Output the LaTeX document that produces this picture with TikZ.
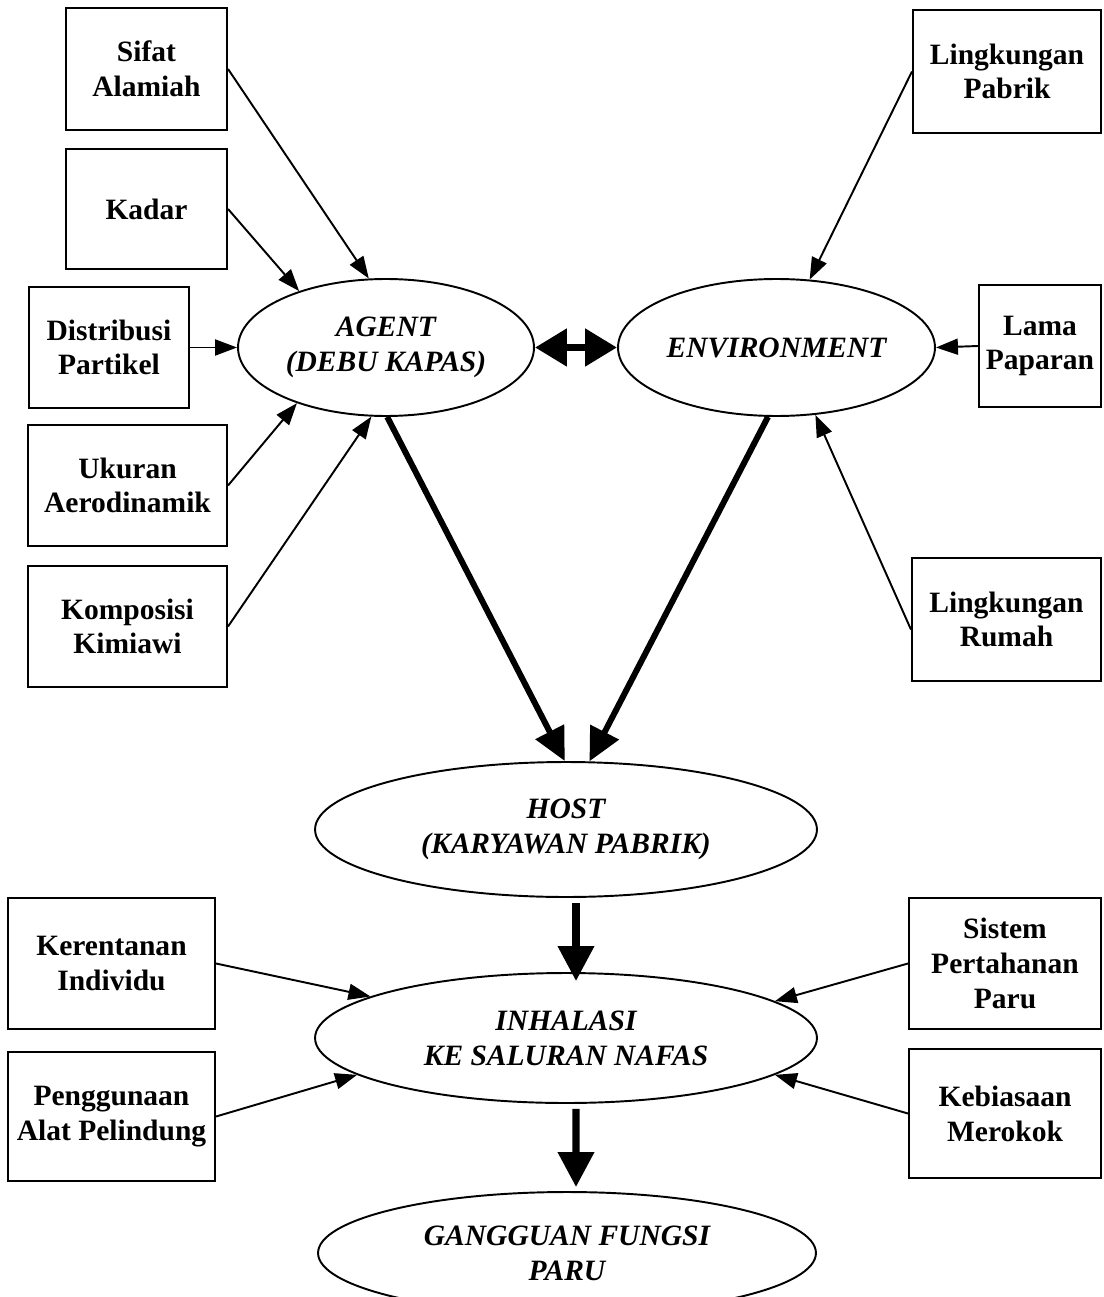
\documentclass[tikz,border=0pt]{standalone}
\usepackage{fontspec}
\setmainfont{Liberation Serif}
\usetikzlibrary{shapes.geometric,arrows.meta}

\begin{document}
\begin{tikzpicture}[x=0.02cm,y=-0.02cm,
        kotak/.style={draw,line width=1.2pt,rectangle,inner sep=0pt,align=center,
            font=\fontsize{16.8}{19.8}\selectfont\bfseries},
        elips/.style={draw,line width=1.1pt,ellipse,inner sep=0pt,align=center,
            font=\fontsize{16.8}{19.8}\selectfont\bfseries\itshape},
        panah/.style={arrows={-Triangle[length=0.44cm,width=0.32cm]},line width=1.1pt},
        panahtebal/.style={arrows={-Triangle[length=0.66cm,width=0.62cm]},line width=3.4pt},
        panahtengah/.style={arrows={-Triangle[length=0.7cm,width=0.7cm]},line width=4pt},
        panahganda/.style={arrows={Triangle[length=0.64cm,width=0.72cm]-Triangle[length=0.64cm,width=0.72cm]},line width=4.5pt}]
        \useasboundingbox (0,0) rectangle (1103,1297);

        % faktor agent
        \node[kotak,minimum width=3.22cm,minimum height=2.44cm] (sifat) at (146.5,69) {Sifat\\Alamiah};
        \node[kotak,minimum width=3.22cm,minimum height=2.4cm] (kadar) at (146.5,209) {Kadar};
        \node[kotak,minimum width=3.2cm,minimum height=2.42cm] (distribusi) at (109,347.5) {Distribusi\\Partikel};
        \node[kotak,minimum width=3.98cm,minimum height=2.42cm] (ukuran) at (127.5,485.5) {Ukuran\\Aerodinamik};
        \node[kotak,minimum width=3.98cm,minimum height=2.42cm] (komposisi) at (127.5,626.5) {Komposisi\\Kimiawi};

        % faktor environment
        \node[kotak,minimum width=3.76cm,minimum height=2.46cm] (pabrik) at (1007,71.5) {Lingkungan\\Pabrik};
        \node[kotak,minimum width=2.44cm,minimum height=2.44cm] (lama) at (1040,346) {Lama\\Paparan};
        \node[kotak,minimum width=3.78cm,minimum height=2.46cm] (rumah) at (1006.5,619.5) {Lingkungan\\Rumah};

        % faktor inhalasi
        \node[kotak,minimum width=4.14cm,minimum height=2.62cm] (kerentanan) at (111.5,963.5) {Kerentanan\\Individu};
        \node[kotak,minimum width=4.14cm,minimum height=2.58cm] (penggunaan) at (111.5,1116.5) {Penggunaan\\Alat Pelindung};
        \node[kotak,minimum width=3.84cm,minimum height=2.62cm] (sistem) at (1005,963.5) {Sistem\\Pertahanan\\Paru};
        \node[kotak,minimum width=3.84cm,minimum height=2.58cm] (kebiasaan) at (1005,1113.5) {Kebiasaan\\Merokok};

        % elips
        \node[elips,minimum width=5.92cm,minimum height=2.74cm] (agent) at (386,347.5) {AGENT\\(DEBU KAPAS)};
        \node[elips,minimum width=6.34cm,minimum height=2.74cm] (env) at (776.5,347.5) {ENVIRONMENT};
        \node[elips,minimum width=10.04cm,minimum height=2.7cm] (host) at (566,829.5) {HOST\\(KARYAWAN PABRIK)};
        \node[elips,minimum width=10.04cm,minimum height=2.6cm] (inhalasi) at (566,1038) {INHALASI\\KE SALURAN NAFAS};
        \node[elips,minimum width=9.96cm,minimum height=2.44cm] (gangguan) at (567,1253) {GANGGUAN FUNGSI\\PARU};

        \draw[panah] (sifat.east) -- (agent.104);
        \draw[panah] (kadar.east) -- (agent.147);
        \draw[panah] (distribusi.east) -- (agent.west);
        \draw[panah] (ukuran.east) -- (agent.212);
        \draw[panah] (komposisi.east) -- (agent.258);

        \draw[panah] (pabrik.west) -- (env.64);
        \draw[panah] (lama.west) -- (env.east);
        \draw[panah] (rumah.186) -- (env.300);

        \draw[panahganda] (agent.east) -- (env.west);
        \draw[panahtebal] (agent.271) -- (host.91);
        \draw[panahtebal] (env.263) -- (host.71);

        \draw[panahtengah] ([xshift=0.2cm,yshift=-0.1cm]host.south) -- ([xshift=0.2cm,yshift=-0.18cm]inhalasi.north);
        \draw[panahtengah] ([xshift=0.2cm,yshift=-0.1cm]inhalasi.south) -- ([xshift=0.18cm,yshift=0.08cm]gangguan.north);

        \draw[panah] (kerentanan.east) -- (inhalasi.168);
        \draw[panah] (penggunaan.east) -- (inhalasi.190);
        \draw[panah] (sistem.west) -- (inhalasi.10);
        \draw[panah] (kebiasaan.west) -- (inhalasi.350);
    \end{tikzpicture}
\end{document}
